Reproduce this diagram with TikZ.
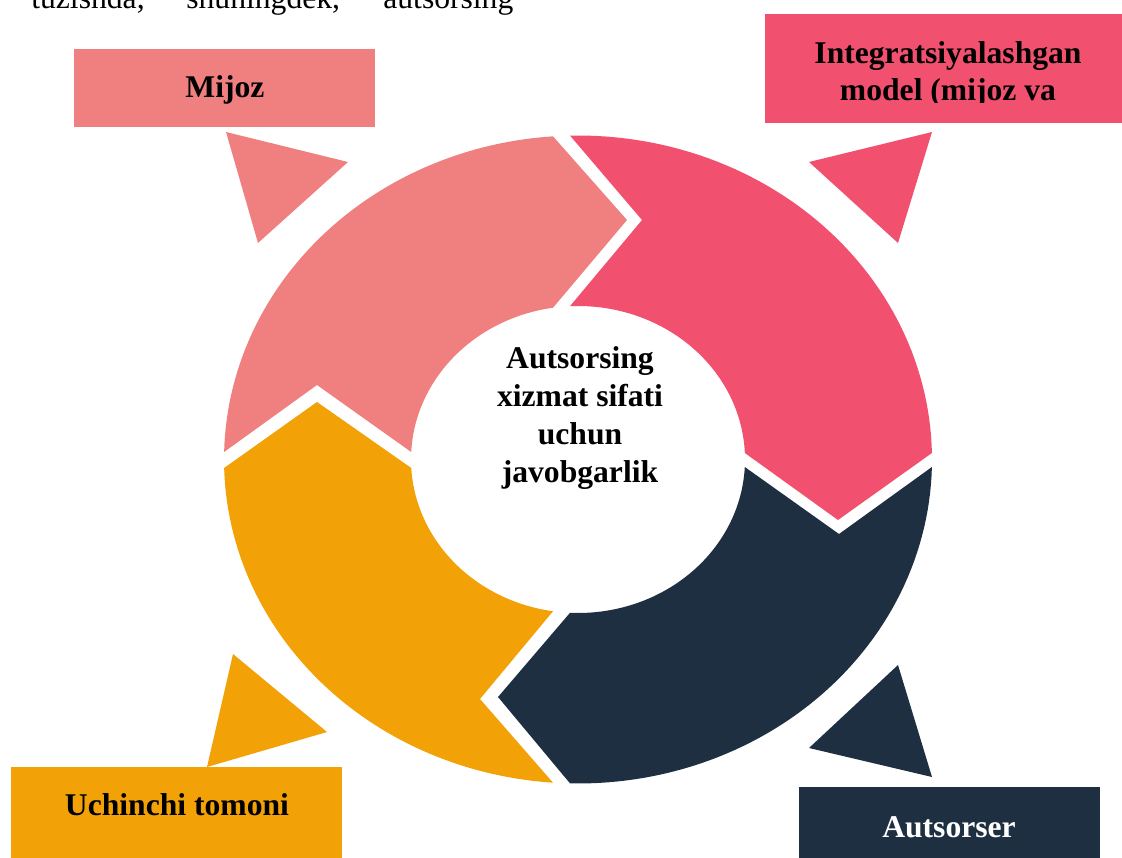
\documentclass[tikz,border=0pt]{standalone}
\usepackage{fontspec}
\setmainfont{Liberation Serif}
\definecolor{cPink}{HTML}{F08080}
\definecolor{cRed}{HTML}{F2506F}
\definecolor{cNavy}{HTML}{1F2F42}
\definecolor{cOrange}{HTML}{F2A107}
\tikzset{
  lbl/.style={inner sep=0pt, font=\bfseries\fontsize{18}{21.5}\selectfont},
  bodytxt/.style={inner sep=0pt, anchor=base west, font=\fontsize{18}{21.5}\selectfont}
}
\begin{document}
\begin{tikzpicture}[x=0.02cm,y=-0.02cm]
\def\cx{578}\def\cy{459.5}\def\rxo{354}\def\ryo{324}\def\rxi{167}\def\ryi{153.5}
\useasboundingbox (0,0) rectangle (1122,858);
\clip (0,0) rectangle (1122,858);
% body text cut at top
\node[bodytxt] (w1) at (31,9) {tuzishda,};
\node[bodytxt] (w2) at (186,9) {shuningdek,};
\node[bodytxt] (w3) at (383,9) {autsorsing};
% ring segments
\fill[cPink] plot[domain=181.33:265.95,samples=60] ({\cx+\rxo*cos(\x)},{\cy+\ryo*sin(\x)})
  -- (627,220) -- plot[domain=261.39:182.80,samples=60] ({\cx+\rxi*cos(\x)},{\cy+\ryi*sin(\x)})
  -- (317,385) -- cycle;
\fill[cRed] plot[domain=268.71:358.85,samples=60] ({\cx+\rxo*cos(\x)},{\cy+\ryo*sin(\x)})
  -- (838,520) -- plot[domain=357.57:267.25,samples=60] ({\cx+\rxi*cos(\x)},{\cy+\ryi*sin(\x)})
  -- (642,220) -- cycle;
\fill[cNavy] plot[domain=1.33:91.29,samples=60] ({\cx+\rxo*cos(\x)},{\cy+\ryo*sin(\x)})
  -- (498,697) -- plot[domain=92.75:2.80,samples=60] ({\cx+\rxi*cos(\x)},{\cy+\ryi*sin(\x)})
  -- (839,534) -- cycle;
\fill[cOrange] plot[domain=94.05:178.50,samples=60] ({\cx+\rxo*cos(\x)},{\cy+\ryo*sin(\x)})
  -- (317,402) -- plot[domain=176.83:98.61,samples=60] ({\cx+\rxi*cos(\x)},{\cy+\ryi*sin(\x)})
  -- (480,699) -- cycle;
% centre text
\node[lbl, align=center, font=\bfseries\fontsize{18}{21.7}\selectfont] (centre) at (580,418)
  {Autsorsing\\xizmat sifati\\uchun\\javobgarlik};
% callout triangles
\fill[cPink] (226,132) -- (348,162) -- (258,243) -- cycle;
\fill[cRed] (932,132) -- (809,162) -- (898,243) -- cycle;
\fill[cOrange] (233,654) -- (327,732) -- (207,767) -- cycle;
\fill[cNavy] (898,665) -- (809,748) -- (932,777) -- cycle;
% label boxes
\fill[cPink] (74,49) rectangle (375,127);
\node[lbl, anchor=base] (mijoz) at (225,98) {Mijoz};
\fill[cRed] (765,14) rectangle (1122,123);
\begin{scope}
\clip (765,14) rectangle (1122,103);
\node[lbl, align=center, font=\bfseries\fontsize{18}{21}\selectfont] (integ) at (948,74)
  {Integratsiyalashgan\\model (mijoz va};
\end{scope}
\fill[cOrange] (11,767) rectangle (342,858);
\node[lbl, anchor=base] (uchinchi) at (177,815) {Uchinchi tomoni};
\fill[cNavy] (799,787) rectangle (1100,858);
\node[lbl, anchor=base, text=white] (autsorser) at (949,837) {Autsorser};
\end{tikzpicture}
\end{document}
